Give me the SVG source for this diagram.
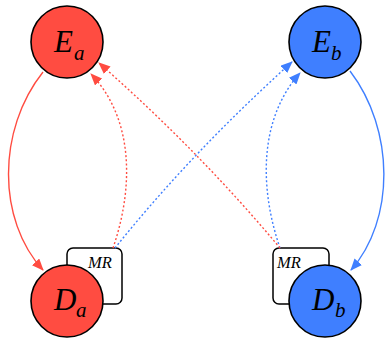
<svg xmlns="http://www.w3.org/2000/svg" width="388" height="340" viewBox="0 0 388 340">
<defs>
<style>
.lbl{font-family:"Liberation Serif","Times New Roman",serif;font-style:italic;fill:#000}
.big{font-size:31px}
.sub{font-size:21px}
.mr{font-size:16.5px}
.node{stroke:#000;stroke-width:1.6}
.red{fill:#ff4c41}
.blue{fill:#3f7fff}
.box{fill:#fff;stroke:#000;stroke-width:1.5}
.c{fill:none;stroke-width:1.4}
.cr{stroke:#ff4c41}
.cb{stroke:#3f7fff}
.dot{stroke-dasharray:2 2.2}
</style>
<marker id="ar" markerWidth="12" markerHeight="10" refX="11" refY="5" orient="auto" markerUnits="userSpaceOnUse"><path d="M0,0 L12,5 L0,10 Z" fill="#ff4c41"/></marker>
<marker id="ab" markerWidth="12" markerHeight="10" refX="11" refY="5" orient="auto" markerUnits="userSpaceOnUse"><path d="M0,0 L12,5 L0,10 Z" fill="#3f7fff"/></marker>
</defs>
<g id="mr-a"><rect class="box" x="67" y="248" width="55" height="56" rx="6"/><text class="lbl mr" x="88" y="268">MR</text></g>
<g id="mr-b"><rect class="box" x="273" y="248" width="56" height="56" rx="6"/><text class="lbl mr" x="277" y="268">MR</text></g>
<g id="connectors">
<path class="c cr" d="M43,72 C-3,130 -3,220 43,270" marker-end="url(#ar)"/>
<path class="c cb" d="M350,71 C395,130 395,220 351,270" marker-end="url(#ab)"/>
<path class="c cr dot" d="M113,248 C133,190 135,120 91,74" marker-end="url(#ar)"/>
<path class="c cb dot" d="M280,248 C260,190 258,120 300,73" marker-end="url(#ab)"/>
<path class="c cr dot" d="M280,248 Q200,152 99,63" marker-end="url(#ar)"/>
<path class="c cb dot" d="M115,248 Q192,152 292,62" marker-end="url(#ab)"/>
</g>
<g id="Ea"><circle class="node red" cx="67" cy="42" r="36"/><text class="lbl big" x="54" y="52">E</text><text class="lbl sub" x="74" y="60">a</text></g>
<g id="Eb"><circle class="node blue" cx="325" cy="42" r="36"/><text class="lbl big" x="312" y="52">E</text><text class="lbl sub" x="331" y="60">b</text></g>
<g id="Da"><circle class="node red" cx="67" cy="301" r="36"/><text class="lbl big" x="54" y="310">D</text><text class="lbl sub" x="76" y="317">a</text></g>
<g id="Db"><circle class="node blue" cx="325" cy="301" r="36"/><text class="lbl big" x="312" y="310">D</text><text class="lbl sub" x="335" y="317">b</text></g>
</svg>
